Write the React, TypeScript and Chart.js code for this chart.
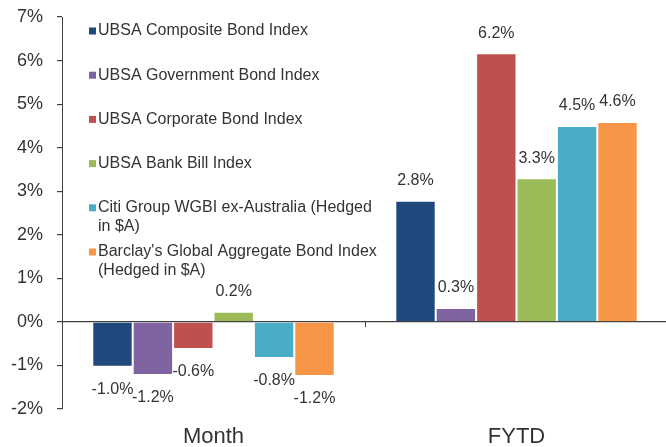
import { useEffect, useRef } from "react";
import { Chart, registerables } from "chart.js";

Chart.register(...registerables);

const categories = ["Month", "FYTD"];
const seriesNames = [
  "UBSA Composite Bond Index",
  "UBSA Government Bond Index",
  "UBSA Corporate Bond Index",
  "UBSA Bank Bill Index",
  "Citi Group WGBI ex-Australia (Hedged in $A)",
  "Barclay's Global Aggregate Bond Index (Hedged in $A)",
];
const seriesColors = ["#1F497D", "#8064A2", "#C0504D", "#9BBB59", "#4BACC6", "#F79646"];

const compositeValues = [-1.03, 2.78];
const governmentValues = [-1.22, 0.32];
const corporateValues = [-0.62, 6.17];
const bankBillValues = [0.23, 3.3];
const citiWgbiValues = [-0.83, 4.5];
const barclaysValues = [-1.24, 4.59];

const yMin = -2;
const yMax = 7;
const yStep = 1;

const FONT = "'Liberation Sans', Arial, Helvetica, sans-serif";
const TEXT = "#333333";
const AXIS = "#404040";

function wrapText(ctx: CanvasRenderingContext2D, text: string, maxWidth: number): string[] {
  const words = text.split(" ");
  const lines: string[] = [];
  let cur = "";
  for (const w of words) {
    const test = cur ? cur + " " + w : w;
    if (ctx.measureText(test).width > maxWidth && cur) {
      lines.push(cur);
      cur = w;
    } else {
      cur = test;
    }
  }
  if (cur) lines.push(cur);
  return lines;
}

const overlayPlugin = {
  id: "overlay",
  afterDatasetsDraw(chart: any) {
    const ctx: CanvasRenderingContext2D = chart.ctx;
    const x = chart.scales.x;
    const y = chart.scales.y;
    const zeroY = y.getPixelForValue(0);
    ctx.save();
    ctx.strokeStyle = AXIS;
    ctx.lineWidth = 1;
    for (let i = 0; i < categories.length - 1; i++) {
      const px = Math.round(x.getPixelForValue(i + 0.5)) + 0.5;
      ctx.beginPath();
      ctx.moveTo(px, zeroY);
      ctx.lineTo(px, zeroY + 5);
      ctx.stroke();
    }
    ctx.font = `16px ${FONT}`;
    ctx.fillStyle = TEXT;
    ctx.textAlign = "center";
    ctx.textBaseline = "middle";
    chart.data.datasets.forEach((ds: any, di: number) => {
      const meta = chart.getDatasetMeta(di);
      meta.data.forEach((bar: any, i: number) => {
        const v = ds.data[i] as number;
        const label = v.toFixed(1) + "%";
        const ly = v >= 0 ? bar.y - 20 : bar.y + 23;
        ctx.fillText(label, bar.x, ly);
      });
    });
    const area = chart.chartArea;
    ctx.font = `16px ${FONT}`;
    ctx.textAlign = "left";
    ctx.textBaseline = "middle";
    const textX = area.left + 36;
    chart.data.datasets.forEach((ds: any, di: number) => {
      const cy = area.top + 14 + di * 44.2;
      ctx.fillStyle = ds.backgroundColor;
      ctx.fillRect(textX - 9, cy - 3.5, 7, 7);
      ctx.fillStyle = TEXT;
      const lines = wrapText(ctx, ds.label, 284);
      lines.forEach((ln, li) => ctx.fillText(ln, textX, cy + li * 18.3));
    });
    ctx.restore();
  },
};

export default function App() {
  const ref = useRef<HTMLCanvasElement | null>(null);
  useEffect(() => {
    if (!ref.current) return;
    const allValues = [
      compositeValues,
      governmentValues,
      corporateValues,
      bankBillValues,
      citiWgbiValues,
      barclaysValues,
    ];
    const chart = new Chart(ref.current, {
      type: "bar",
      data: {
        labels: categories,
        datasets: allValues.map((vals, i) => ({
          label: seriesNames[i],
          data: vals,
          backgroundColor: seriesColors[i],
          borderColor: "rgba(255,255,255,0.45)",
          borderWidth: 1,
          barPercentage: 1,
          categoryPercentage: 0.8,
        })),
      },
      options: {
        animation: false,
        responsive: true,
        maintainAspectRatio: false,
        layout: { padding: { top: 17, right: 4, left: 0, bottom: 0 } },
        plugins: {
          legend: { display: false },
          tooltip: { enabled: false },
        },
        scales: {
          x: {
            grid: { display: false, drawTicks: false },
            border: { display: false },
            ticks: {
              color: TEXT,
              font: { family: FONT, size: 22 },
              padding: 15,
            },
            afterFit: (s: any) => {
              s.height = 38;
              s.paddingLeft = 0;
              s.paddingRight = 0;
            },
          },
          y: {
            min: yMin,
            max: yMax,
            ticks: {
              stepSize: yStep,
              color: TEXT,
              font: { family: FONT, size: 18 },
              padding: 14,
              callback: (v: any) => `${v}%`,
            },
            grid: {
              drawOnChartArea: true,
              color: (c: any) => (c.tick && c.tick.value === 0 ? AXIS : "rgba(0,0,0,0)"),
              tickColor: AXIS,
              tickLength: 5,
              lineWidth: 1.2,
            },
            border: { display: true, color: AXIS, width: 1 },
            afterFit: (s: any) => {
              s.width = 62;
              s.paddingTop = 0;
              s.paddingBottom = 0;
            },
          },
        },
      },
      plugins: [overlayPlugin],
    });
    return () => chart.destroy();
  }, []);
  return (
    <div style={{ position: "fixed", left: 0, top: 0, width: 672, height: 447, background: "#fff" }}>
      <canvas ref={ref} />
    </div>
  );
}
